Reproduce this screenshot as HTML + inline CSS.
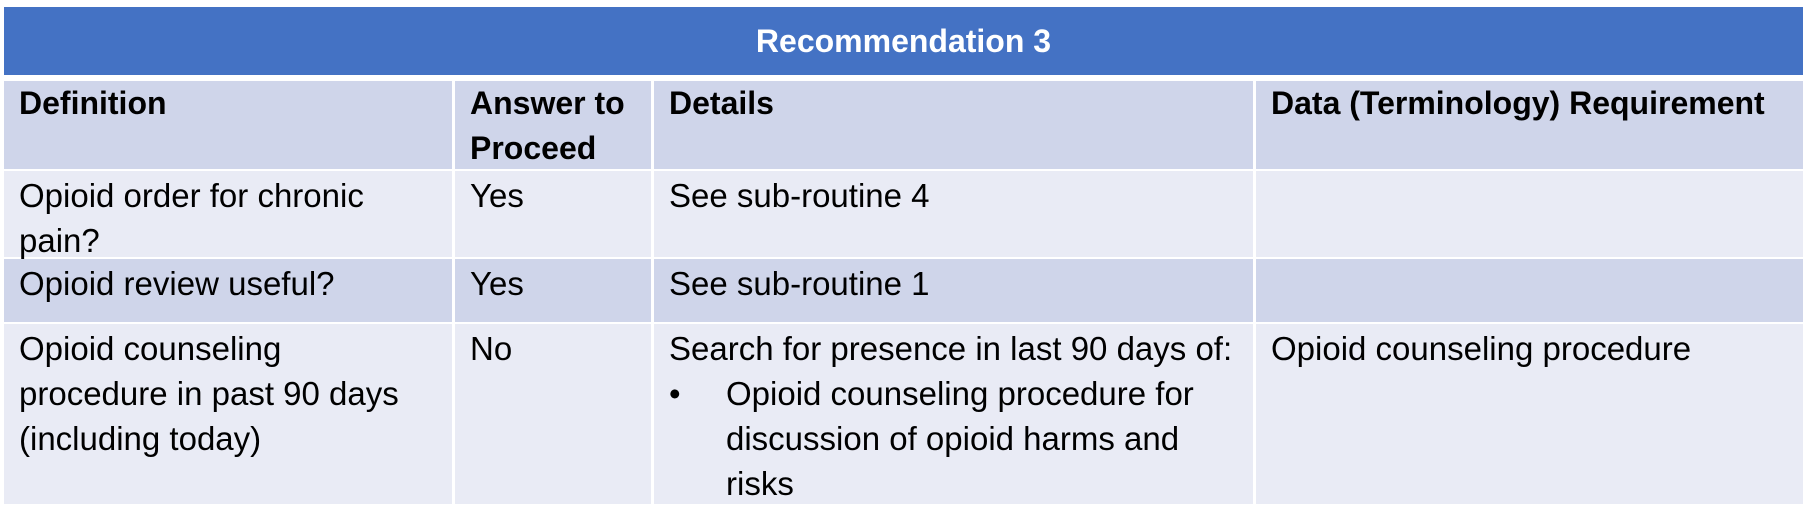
<!DOCTYPE html>
<html><head><meta charset="utf-8"><style>
body{margin:0;width:1808px;height:527px;background:#fff;position:relative;overflow:hidden;font-family:"Liberation Sans",sans-serif;}
.c{position:absolute;box-sizing:border-box;padding:2px 0 0 15px;font-size:33px;line-height:45px;color:#000;white-space:nowrap;}
.h{background:#CFD5EA;font-weight:bold;font-size:32px;padding-top:0;}
.a{background:#E9EBF5;}
.b{background:#CFD5EA;}
</style></head><body>
<div style="position:absolute;left:4px;top:7px;width:1799px;height:68px;background:#4472C4;color:#fff;font-weight:bold;font-size:32px;line-height:68px;text-align:center;">Recommendation 3</div>

<div class="c h" style="left:4px;top:81px;width:448px;height:88px;">Definition</div>
<div class="c h" style="left:455px;top:81px;width:196px;height:88px;">Answer to<br>Proceed</div>
<div class="c h" style="left:654px;top:81px;width:599px;height:88px;">Details</div>
<div class="c h" style="left:1256px;top:81px;width:547px;height:88px;">Data (Terminology) Requirement</div>

<div class="c a" style="left:4px;top:171px;width:448px;height:86px;">Opioid order for chronic<br>pain?</div>
<div class="c a" style="left:455px;top:171px;width:196px;height:86px;">Yes</div>
<div class="c a" style="left:654px;top:171px;width:599px;height:86px;">See sub-routine 4</div>
<div class="c a" style="left:1256px;top:171px;width:547px;height:86px;"></div>

<div class="c b" style="left:4px;top:259px;width:448px;height:63px;">Opioid review useful?</div>
<div class="c b" style="left:455px;top:259px;width:196px;height:63px;">Yes</div>
<div class="c b" style="left:654px;top:259px;width:599px;height:63px;">See sub-routine 1</div>
<div class="c b" style="left:1256px;top:259px;width:547px;height:63px;"></div>

<div class="c a" style="left:4px;top:324px;width:448px;height:180px;">Opioid counseling<br>procedure in past 90 days<br>(including today)</div>
<div class="c a" style="left:455px;top:324px;width:196px;height:180px;">No</div>
<div class="c a" style="left:654px;top:324px;width:599px;height:180px;">Search for presence in last 90 days of:<br><span style="display:inline-block;width:57px;">•</span>Opioid counseling procedure for<br><span style="display:inline-block;width:57px;"></span>discussion of opioid harms and<br><span style="display:inline-block;width:57px;"></span>risks</div>
<div class="c a" style="left:1256px;top:324px;width:547px;height:180px;">Opioid counseling procedure</div>
</body></html>
